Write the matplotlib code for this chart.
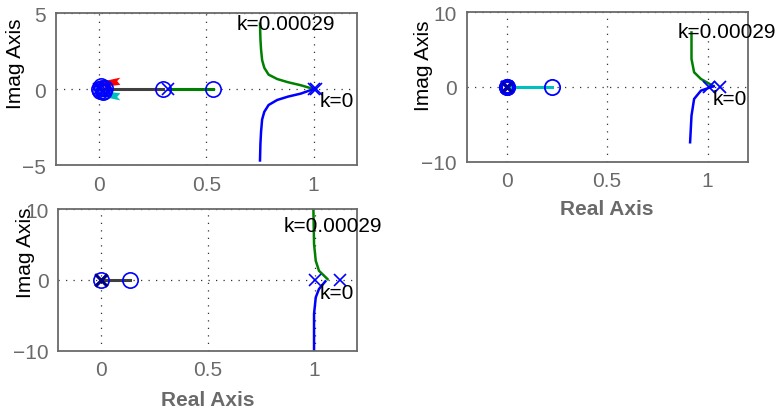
import matplotlib.pyplot as plt
import numpy as np

plt.rcParams['font.family'] = ['Liberation Sans', 'DejaVu Sans']

# ---- top-left panel data
tl_green_x = [1.0, 0.94, 0.88, 0.83, 0.79, 0.77, 0.76, 0.755, 0.752, 0.75]
tl_green_y = [0.0, 0.25, 0.45, 0.66, 0.95, 1.4, 1.9, 2.6, 3.3, 4.3]
tl_blue_x = [1.0, 0.94, 0.88, 0.83, 0.79, 0.77, 0.76, 0.755, 0.752, 0.75]
tl_blue_y = [0.0, -0.3, -0.5, -0.72, -1.05, -1.5, -2.0, -2.8, -3.6, -4.7]
tl_gray_x = [0.0, 0.30]
tl_seg_x = [0.32, 0.53]
# near-origin branches (red above, cyan below the axis)
tl_red_x = [0.0, 0.10, 0.085, 0.10, 0.0]
tl_red_y = [0.45, 0.75, 0.52, 0.28, 0.1]
tl_cyan_x = [0.0, 0.10, 0.085, 0.10, 0.0]
tl_cyan_y = [-0.1, -0.28, -0.52, -0.75, -0.45]
tl_zeros_x = [0.0, 0.01, 0.02, 0.03, 0.015, 0.025, 0.005, 0.30, 0.53]
tl_zeros_y = [0.0, 0.2, -0.2, 0.05, 0.1, -0.1, -0.15, 0.0, 0.0]
tl_poles_x = [0.0, 0.01, 0.02, 0.03, 0.32, 1.0, 1.01]
tl_poles_y = [0.0, 0.1, -0.1, 0.0, 0.0, 0.0, 0.0]

# ---- top-right panel data
tr_green_x = [1.03, 0.967, 0.933, 0.92, 0.92]
tr_green_y = [0.1, 1.07, 1.97, 3.75, 7.3]
tr_blue_x = [1.03, 0.967, 0.933, 0.92, 0.913]
tr_blue_y = [0.1, -0.49, -1.6, -3.84, -7.4]
tr_cyan_x = [0.0, 0.225]
tr_zeros_x = [0.0, 0.0, 0.225]
tr_poles_x = [0.0, 0.0, 1.008, 1.063]

# ---- bottom panel data
bl_green_x = [1.06, 1.02, 1.005, 0.997, 0.994]
bl_green_y = [0.12, 1.29, 2.7, 5.06, 10.0]
bl_blue_x = [1.05, 1.02, 1.005, 0.997, 0.997]
bl_blue_y = [-0.2, -1.29, -2.47, -4.8, -10.0]
bl_gray_x = [0.0, 0.134]
bl_zeros_x = [0.0, 0.134]
bl_poles_x = [0.0, 1.0, 1.12]

GRAY = '#6a6a6a'
BLUE = '#0000ff'
GREEN = '#008000'


def style(ax, ylim, yticks, xlabel, ylab_xy):
    ax.set_xlim(-0.2, 1.2)
    ax.set_ylim(*ylim)
    ax.set_xticks([0, 0.5, 1])
    ax.set_xticklabels(['0', '0.5', '1'])
    ax.set_yticks(yticks)
    ax.set_yticklabels([str(t).replace('-', '\u2212') for t in yticks])
    ax.tick_params(length=0, labelsize=15, labelcolor=GRAY, pad=7)
    for s in ax.spines.values():
        s.set_color(GRAY)
        s.set_linewidth(1.3)
    ax.grid(True, linestyle=(0, (1, 5)), color='#333333', linewidth=0.9)
    ax.set_axisbelow(True)
    ax.set_ylabel('Imag Axis', fontsize=15, color='black')
    ax.yaxis.set_label_coords(*ylab_xy)
    if xlabel:
        ax.set_xlabel('Real Axis', fontsize=15, fontweight='bold', color=GRAY)


fig = plt.figure(figsize=(7.77, 4.14), dpi=100)

# top-left
ax1 = fig.add_axes([0.072, 0.599, 0.387, 0.367])
ax1.fill(tl_red_x, tl_red_y, color='red', lw=0)
ax1.fill(tl_cyan_x, tl_cyan_y, color='#00bfbf', lw=0)
ax1.plot(tl_gray_x, [0, 0], color='#404040', lw=2.2)
ax1.plot(tl_seg_x, [0, 0], color=GREEN, lw=2.2)
ax1.plot(tl_green_x, tl_green_y, color=GREEN, lw=1.8)
ax1.plot(tl_blue_x, tl_blue_y, color=BLUE, lw=1.8)
ax1.plot(tl_zeros_x, tl_zeros_y, 'o', ms=11, mfc='none', mec=BLUE, mew=1.2)
ax1.plot(tl_poles_x, tl_poles_y, 'x', ms=9, mec=BLUE, mew=1.2)
ax1.text(0.64, 4.3, 'k=0.00029', fontsize=15, va='center')
ax1.text(1.028, -0.77, 'k=0', fontsize=15, va='center')
style(ax1, (-5, 5), [-5, 0, 5], False, (-0.103, 0.67))

# top-right
ax2 = fig.add_axes([0.6006, 0.607, 0.3617, 0.361])
ax2.plot(tr_cyan_x, [0, 0], color='#00bfbf', lw=2.2)
ax2.plot(tr_green_x, tr_green_y, color=GREEN, lw=1.8)
ax2.plot(tr_blue_x, tr_blue_y, color=BLUE, lw=1.8)
ax2.plot(tr_zeros_x, [0] * len(tr_zeros_x), 'o', ms=11, mfc='none', mec=BLUE, mew=1.3)
ax2.plot(tr_poles_x, [0] * len(tr_poles_x), 'x', ms=9, mec=BLUE, mew=1.3)
ax2.plot([0.0], [0.0], 'o', ms=9, mfc='none', mec=BLUE, mew=2.5)
ax2.plot([0.0], [0.0], 'x', ms=7, mec='#0000aa', mew=2.5)
ax2.text(0.853, 7.4, 'k=0.00029', fontsize=15, va='center')
ax2.text(1.025, -1.5, 'k=0', fontsize=15, va='center')
style(ax2, (-10, 10), [-10, 0, 10], True, (-0.12, 0.647))
ax2.xaxis.set_label_coords(0.5, -0.25)

# bottom-left
ax3 = fig.add_axes([0.075, 0.1505, 0.385, 0.342])
ax3.plot(bl_gray_x, [0, 0], color='#404040', lw=2.2)
ax3.plot(bl_green_x, bl_green_y, color=GREEN, lw=1.8)
ax3.plot(bl_blue_x, bl_blue_y, color=BLUE, lw=1.8)
ax3.plot(bl_zeros_x, [0] * len(bl_zeros_x), 'o', ms=11, mfc='none', mec=BLUE, mew=1.2)
ax3.plot(bl_poles_x, [0] * len(bl_poles_x), 'x', ms=9, mec=BLUE, mew=1.2)
ax3.plot([0.0], [0.0], 'x', ms=9, mec='#000080', mew=2.2)
ax3.text(0.856, 7.65, 'k=0.00029', fontsize=15, va='center')
ax3.text(1.025, -1.76, 'k=0', fontsize=15, va='center')
style(ax3, (-10, 10), [-10, 0, 10], True, (-0.078, 0.70))
ax3.xaxis.set_label_coords(0.5, -0.28)

fig.savefig('out.png', dpi=100)
